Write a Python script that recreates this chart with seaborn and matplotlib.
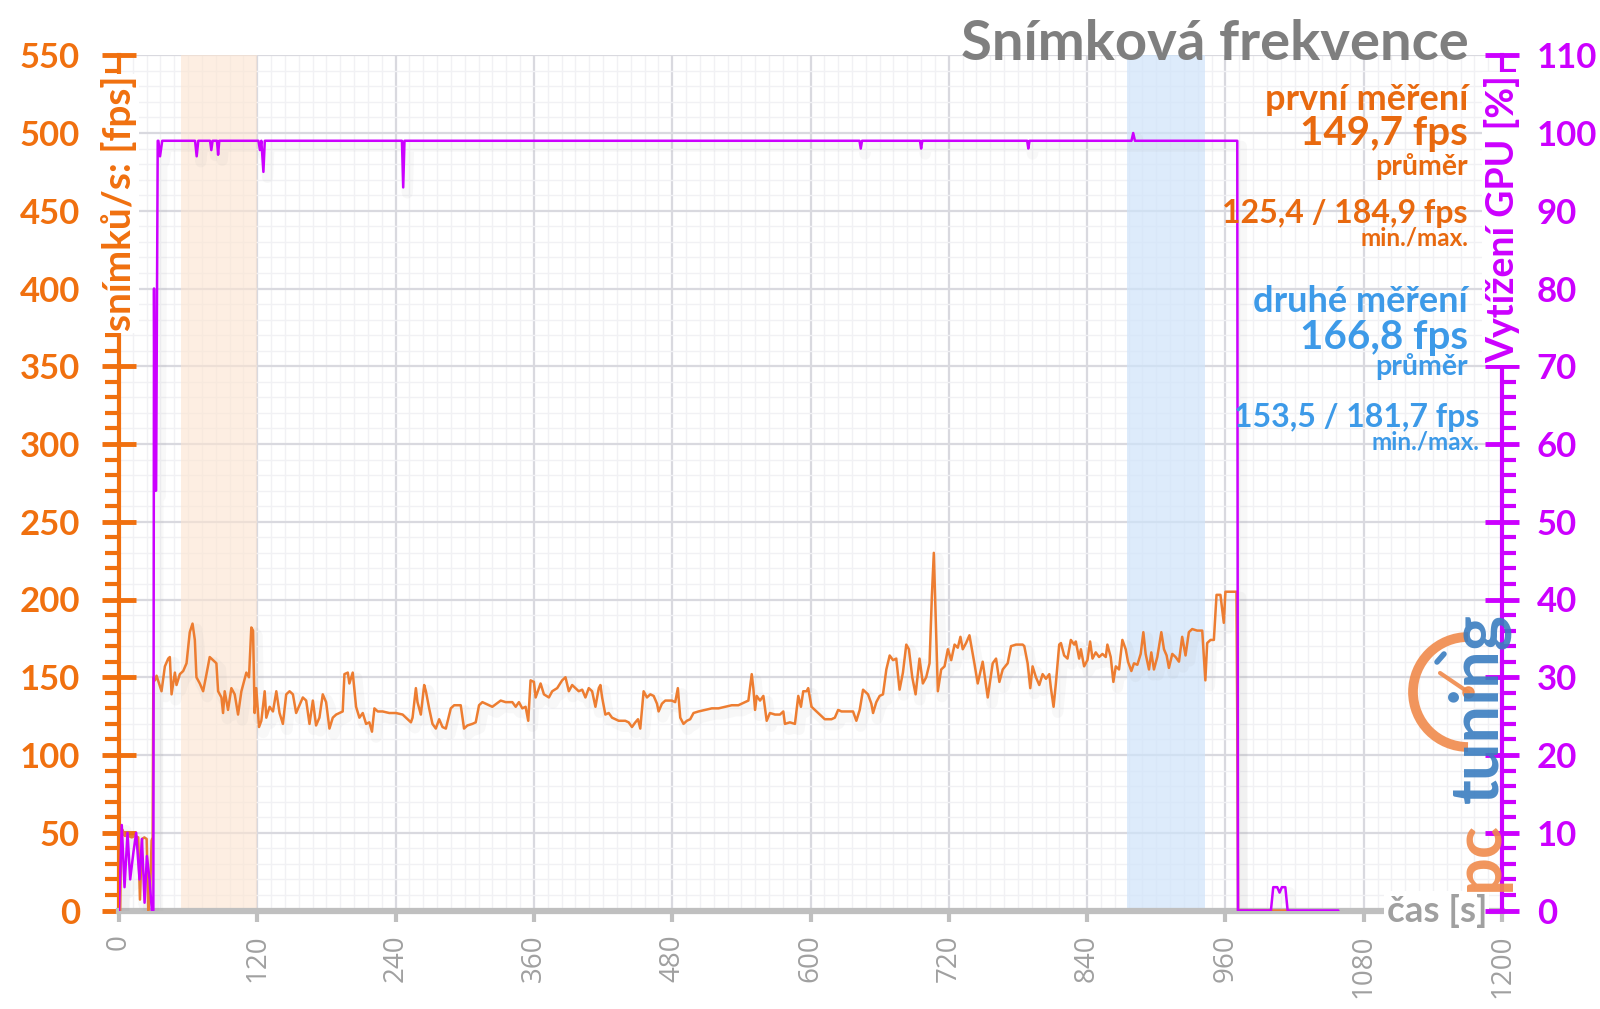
import matplotlib
matplotlib.use("Agg")
import matplotlib.pyplot as plt
import matplotlib.patheffects as pe
import seaborn as sns
import numpy as np
import pandas as pd
from matplotlib.ticker import MultipleLocator, FixedLocator
from matplotlib.patches import Arc

# ---------------- data ----------------
fps_t = [0, 1, 2, 3, 5, 8, 11, 14, 16.7, 18.2, 20, 22, 24, 25.4, 27, 28.3, 29.2,
         29.8, 31.2, 32.6, 36.9, 39.8, 42.7, 44.1, 45.6, 48.5, 49.9, 52.8, 55.7, 58.6, 61.4, 63.8, 65.8, 67.2,
         70.1, 73.0, 75.9, 78.7, 81.6, 84.5, 86.0, 88.9, 90.3, 91.7, 94.6, 97.5, 100.4, 103.3, 106.2, 110.5,
         112.8, 114.8, 116.3, 117.7, 119.1, 121.5, 123.5, 126.4, 127.8, 130.7, 133.6, 136.5, 139.3, 142.2,
         145.1, 148.0, 150.9, 153.7, 156.6, 159.5, 162.4, 165.3, 168.2, 171.0, 173.9, 176.8, 179.7, 182.6,
         185.5, 188.4, 191.3, 194.1, 195.6, 198.5, 199.9, 202.8, 205.7, 208.6, 211.5, 214.4, 217.2, 219.5,
         221.6, 224.5, 228.8, 234.5, 240.3, 246.1, 250.4, 253.3, 254.7, 257.6, 259.0, 261.9, 264.8, 266.3,
         269.1, 272.0, 274.9, 277.8, 280.7, 283.6, 287.9, 290.8, 296.5, 299.4, 302.3, 306.6, 309.5, 312.4,
         315.3, 323.9, 331.2, 335.5, 341.3, 344.2, 347.0, 349.9, 352.8, 355.1, 357.1, 360.0, 361.5, 365.8,
         368.7, 373.0, 375.9, 380.2, 384.5, 387.4, 390.3, 393.2, 398.9,
         401.9, 404.7, 407.6, 410.5, 413.4, 416.3, 417.7, 419.2, 422.0, 424.9, 427.8, 430.7, 433.6, 436.5,
         439.3, 442.2, 445.1, 448.0, 450.3, 452.3, 455.2, 458.1, 461.0, 463.9, 466.8, 468.2, 471.1, 474.0,
         476.8, 479.7, 482.6, 484.9, 487.0, 489.8, 492.7, 495.6, 498.5, 502.8, 508.6, 514.4, 520.2, 525.9,
         531.7, 537.4, 543.2, 546.1, 549.0, 550.4, 551.9, 553.3, 556.2, 559.1, 562.0, 564.8, 569.2, 573.5,
         576.4, 577.8, 582.1, 586.5, 589.4, 591.7, 593.7, 596.6, 598.0, 600.9, 603.8, 608.1, 612.4, 618.2,
         621.1, 624.0, 626.9, 632.6, 636.9, 639.8, 642.7, 645.6, 649.9, 652.8, 654.3, 657.1, 660.0, 662.9,
         665.8, 668.7, 671.6, 674.4, 677.3, 680.2, 683.1, 685.4, 688.3, 691.2, 694.6, 697.5, 700.4, 703.3,
         705.3, 707.0, 708.5, 710.5, 713.4, 716.3, 719.2, 722.1, 725.0, 727.8, 730.1, 732.1, 735.0, 737.9,
         742.2, 745.1, 749.4, 753.8, 758.1, 761.0, 763.9, 766.8, 771.1,
         774.0, 778.3, 784.1, 785.5, 788.4, 790.7, 792.7, 795.6, 798.5, 801.4, 804.3, 807.2, 808.6, 810.9,
         812.9, 815.8, 817.3, 820.1, 823.0, 825.9, 828.8, 830.2, 833.1, 834.6, 837.4, 840.3, 842.6, 844.7,
         847.5, 850.4, 853.3, 856.2, 857.6, 860.5, 862.8, 864.9, 867.7, 870.6, 873.5, 875.5, 878.4, 880.7,
         883.6, 886.5, 888.8, 890.8, 893.7, 895.7, 898.0, 900.9, 904.4, 906.7, 909.0, 911.0, 913.9, 916.8,
         919.7, 922.5, 925.4, 928.3, 931.2, 935.5, 939.9, 942.6, 944.2, 947.1, 950.0, 952.3, 955.7, 958.6,
         960.0, 964.4, 969.6, 970.3, 971.0, 1015.0]
fps_v = [0, 0, 50, 52, 48, 48, 47, 48, 47, 7, 46, 47, 46, 0, 12, 45, 47,
         150, 148, 151, 141, 157, 162, 163, 139, 153, 145, 152, 154, 159, 179, 184.5, 174, 150,
         146, 141, 152, 163, 161, 159, 141, 137, 127, 141, 129, 143, 139, 126, 141, 153,
         150, 182, 180, 127, 143, 118, 122, 141, 124, 131, 128, 141, 127, 120,
         139, 141, 139, 127, 132, 137, 135, 120, 135, 119, 124, 139, 134, 117,
         124, 126, 127, 128, 152, 153, 146, 153, 131, 124, 127, 120, 121, 115,
         130, 128, 128, 127, 127, 126, 123, 121, 124, 143, 134, 126, 145, 141,
         130, 120, 117, 123, 118, 117, 130, 132, 132, 117, 119, 120, 121, 132,
         134, 131, 135, 134, 134, 131, 134, 130, 131, 122, 148, 147, 137, 146,
         139, 137, 141, 143, 148, 150, 141, 145, 141,
         142, 137, 143, 141, 131, 143, 145, 137, 126, 127, 124, 123, 122, 122,
         122, 121, 118, 121, 123, 117, 141, 137, 139, 138, 133, 128, 133, 135,
         135, 135, 134, 143, 124, 120, 122, 123, 127, 128, 129, 130, 130, 131,
         132, 132, 134, 135, 152, 143, 129, 138, 135, 138, 122, 127, 126, 126,
         128, 120, 121, 120, 138, 131, 141, 141, 143, 131, 129, 126, 123, 123,
         124, 129, 128, 128, 128, 122, 129, 142, 139, 133, 127, 134, 138, 139,
         155, 164, 161, 162, 142, 153, 171, 168, 150, 139, 162, 146, 150, 159,
         202, 230, 191, 141, 155, 157, 168, 161, 171, 169, 176, 168, 172, 177,
         159, 146, 160, 137, 159, 162, 147, 155, 159,
         170, 171, 171, 170, 159, 143, 157, 150, 145, 152, 149, 152, 143, 131,
         146, 171, 172, 164, 162, 174, 171, 173, 162, 168, 157, 161, 173, 162,
         166, 163, 165, 163, 171, 163, 147, 157, 155, 174, 168, 160, 154, 159,
         158, 165, 179, 165, 155, 166, 155, 163, 179, 168, 164, 156, 165, 163,
         160, 176, 164, 179, 181, 180, 180, 148, 172, 174, 174, 203, 203, 185,
         205, 205, 205, 122, 0, 0]

gpu_t = [0, 2.4, 4.8, 7.4, 9.7, 12.6, 14.9, 17.8, 19.9, 22.2, 24.2, 26.5, 28.5, 29.8, 30.4, 31.0, 32.2,
         33.6, 34.2, 35.6, 37.5, 66.0, 67.4, 68.8, 79.0, 80.1, 81.2, 85.0, 86.0, 87.0, 121.0, 122.3, 123.5,
         125.3, 126.5, 245.5, 246.6, 247.7, 642.5, 643.6, 644.7, 695.0, 696.0, 697.0, 788.0, 789.0, 790.0,
         878.5, 880.0, 881.5, 970.3, 970.9, 999.5, 1001.5, 1005.0, 1007.0, 1009.0, 1012.0, 1014.0, 1058.0]
gpu_v = [0, 11, 3, 10, 4, 7.6, 10, 4, 9.2, 1, 7, 4, 0, 0, 80, 54, 54,
         99, 99, 97, 99, 99, 97, 99, 99, 97.8, 99, 99, 97.2, 99, 99, 97.8, 99,
         95, 99, 99, 93, 99, 99, 98, 99, 99, 98, 99, 99, 98, 99,
         99, 100, 99, 99, 0, 0, 3, 3, 2.3, 3, 3, 0, 0]

x_ticks = list(range(0, 1201, 120))
fps_ticks = list(range(0, 551, 50))
gpu_ticks = list(range(0, 111, 10))

first_texts = ["první měření", "149,7 fps", "průměr", "125,4 / 184,9 fps", "min./max."]
second_texts = ["druhé měření", "166,8 fps", "průměr", "153,5 / 181,7 fps", "min./max."]
title_text = "Snímková frekvence"
span_first = (54, 120)
span_second = (875, 942)

# ---------------- style ----------------
sns.set_theme(style="white")
plt.rcParams["font.family"] = ["Lato", "DejaVu Sans"]

ORANGE = "#F0700F"
ORANGE_LINE = "#ED7D31"
PURPLE = "#CC00FF"
GRAY = "#A0A0A0"
BLUE = "#3D9AE8"

W, H = 1600, 1009
fig = plt.figure(figsize=(W / 100, H / 100), dpi=100)
fig.patch.set_facecolor("white")

x0, x1 = 119, 1502
y_bot, y_top = 910.5, 55.25
ax = fig.add_axes([x0 / W, (H - y_bot) / H, (x1 - x0) / W, (y_bot - y_top) / H])

ax.axvspan(*span_first, color="#FCE4D0", alpha=0.6, lw=0, zorder=0.8)
ax.axvspan(*span_second, color="#CFE3FA", alpha=0.7, lw=0, zorder=0.8)

shadow = [pe.SimpleLineShadow(offset=(3, -4), shadow_color="#909090", alpha=0.06, linewidth=8),
          pe.Normal()]

sns.lineplot(x=fps_t, y=fps_v, ax=ax, color=ORANGE_LINE, linewidth=1.8,
             sort=False, estimator=None, zorder=3, path_effects=shadow)

ax.set_xlim(0, 1200)
ax.set_ylim(0, 550)
ax.set_xlabel("")
ax.set_ylabel("")
ax.xaxis.set_major_locator(FixedLocator(x_ticks))
ax.xaxis.set_minor_locator(MultipleLocator(12))
ax.yaxis.set_major_locator(FixedLocator(fps_ticks))
ax.yaxis.set_minor_locator(MultipleLocator(10))
ax.set_axisbelow(True)
ax.grid(which="major", color="#D9D9DF", lw=1.6)
ax.grid(which="minor", color="#F1F1F4", lw=1.0)

for s in ["top", "right"]:
    ax.spines[s].set_visible(False)
ax.spines["left"].set_color(ORANGE)
ax.spines["left"].set_linewidth(3)
ax.spines["bottom"].set_color("#BFBFBF")
ax.spines["bottom"].set_linewidth(4.5)

ax.tick_params(axis="y", which="major", direction="inout", length=24, width=3.5,
               color=ORANGE, labelcolor=ORANGE, labelsize=25, pad=16, left=True)
ax.tick_params(axis="y", which="minor", direction="out", length=10, width=3, color=ORANGE, left=True)
ax.tick_params(axis="x", which="major", direction="out", length=8, width=3, color="#BFBFBF",
               labelcolor=GRAY, labelsize=20, labelrotation=90, pad=9, bottom=True)
ax.tick_params(axis="x", which="minor", length=0)
for lbl in ax.get_yticklabels():
    lbl.set_fontweight("bold")
for lbl in ax.get_xticklabels():
    lbl.set_fontfamily(["Open Sans", "DejaVu Sans"])
    lbl.set_fontweight("normal")

ax2 = ax.twinx()
sns.lineplot(x=gpu_t, y=gpu_v, ax=ax2, color=PURPLE, linewidth=1.8,
             sort=False, estimator=None, zorder=4, path_effects=shadow)
ax2.set_ylim(0, 110)
ax2.set_xlim(0, 1200)
ax2.set_ylabel("")
ax2.yaxis.set_major_locator(FixedLocator(gpu_ticks))
ax2.yaxis.set_minor_locator(MultipleLocator(2))
ax2.grid(False)
for s in ["top", "left", "bottom"]:
    ax2.spines[s].set_visible(False)
ax2.spines["right"].set_color(PURPLE)
ax2.spines["right"].set_linewidth(3)
ax2.tick_params(axis="y", which="major", direction="inout", length=24, width=3.5,
                color=PURPLE, labelcolor=PURPLE, labelsize=25, pad=13, right=True)
ax2.tick_params(axis="y", which="minor", direction="out", length=10, width=3, color=PURPLE, right=True)
for lbl in ax2.get_yticklabels():
    lbl.set_fontweight("bold")

# axis titles with white background covering the spines
box = dict(facecolor="white", edgecolor="none", pad=1.5)
ax.text(0, 537, "snímků/s: [fps]", rotation=90, ha="center", va="top", color=ORANGE,
        fontsize=28, fontweight="bold", bbox=box, clip_on=False, zorder=10)
ax2.text(1200, 107.5, "Vytížení GPU [%]", rotation=90, ha="center", va="top", color=PURPLE,
         fontsize=27, fontweight="bold", bbox=box, clip_on=False, zorder=10)
ax.text(1187, 0, "čas [s]", ha="right", va="center", color=GRAY,
        fontsize=26.5, fontweight="bold", bbox=box, clip_on=False, zorder=10)

# overlay in pixel coordinates for annotations and logo
ov = fig.add_axes([0, 0, 1, 1], zorder=20)
ov.set_xlim(0, W)
ov.set_ylim(H, 0)
ov.axis("off")
ov.patch.set_alpha(0)

ov.text(1469, 44, title_text, ha="right", va="center", color="#7F7F7F", fontsize=40.5, fontweight="bold")

sizes = [26, 29, 20.5, 23, 17.5]
ys1 = [100, 134, 166, 213, 238]
ys2 = [302, 338, 367, 417, 442]
xr1 = [1468, 1468, 1468, 1468, 1468]
xr2 = [1468, 1468, 1468, 1479, 1479]
for t, s, y, x in zip(first_texts, sizes, ys1, xr1):
    ov.text(x, y, t, ha="right", va="center", color="#E8690F", fontsize=s, fontweight="bold")
for t, s, y, x in zip(second_texts, sizes, ys2, xr2):
    ov.text(x, y, t, ha="right", va="center", color=BLUE, fontsize=s, fontweight="bold")

# pctuning logo (watermark)
ov.add_patch(Arc((1468, 692), 110, 110, theta1=90, theta2=270, color="#F08A4B", lw=7, alpha=0.9))
ov.plot([1468, 1440], [692, 673], color="#F08A4B", lw=3, alpha=0.9)
ov.plot([1468], [692], "o", color="#F08A4B", ms=8, alpha=0.9)
ov.plot([1437, 1444], [662, 654], color="#3A7DC0", lw=4, alpha=0.9)
ov.text(1479, 708, "tuning", rotation=90, ha="center", va="center", color="#3A7DC0",
        fontsize=48, fontweight="bold", alpha=0.9)
ov.text(1479, 856, "pc", rotation=90, ha="center", va="center", color="#F08A4B",
        fontsize=48, fontweight="bold", alpha=0.9)

fig.savefig("out.png", dpi=100, facecolor="white")
